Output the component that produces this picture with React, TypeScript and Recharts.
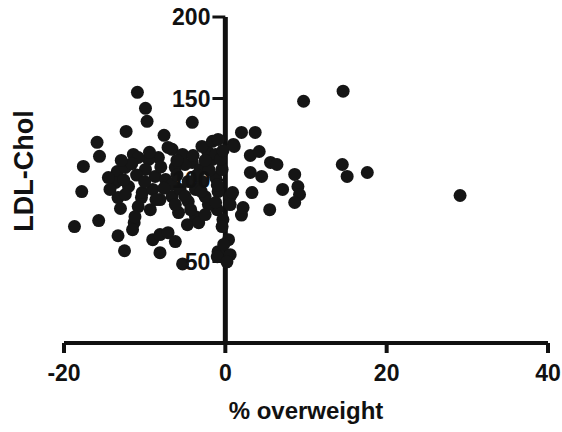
import { ScatterChart, Scatter, XAxis, YAxis, ReferenceLine } from 'recharts'

// % overweight vs LDL cholesterol
const pctOverweight = [
  -18.7, -17.8, -17.6, -15.6, -15.9, -15.7, -13.3, -12.5, -12.3, -10.9,
  -9.9, -9.7, -7.6, -4.1, -5.3, -13.0, -11.3, -11.5, -10.4, -9.0,
  -8.1, -8.1, -7.1, -6.2, -4.7, -5.8, -3.7, -1.0, 0.6, -0.3,
  0.4, -0.9, 0.6, -6.6, -5.3, -8.3, -9.5, -4.1, -2.2, -1.6,
  -3.1, -11.4, -13.4, -13.6, -13.3, -10.8, -9.9, -8.7, -10.3, -10.8,
  -7.4, -6.6, -11.2, -12.0, -9.0, -7.1, -2.9, -1.6, -0.9, 1.0,
  -1.2, -5.0, -6.2, -6.6, -4.6, -2.9, -1.2, -0.9, 0.9, 0.6,
  -2.1, -4.6, -6.2, -2.5, -1.2, 2.0, -3.3, -0.4, -0.2, -1.0,
  0.2, -14.3, -12.4, -8.1, -9.3, -5.6, -3.7, -4.3, -2.5, -0.4,
  -0.6, -14.5, -12.4, -12.6, -11.0, -8.0, -6.0, -3.5, -2.0, -7.6,
  -5.0, -11.6, -10.0, -4.0, -9.4, -6.0, -2.5, -1.0, -12.9, -8.6,
  -0.3, -3.0,
  9.7, 14.6, 14.5, 15.1, 17.6, 29.1, 2.0, 3.7, 1.1, 3.1,
  4.2, 5.6, 6.4, 3.1, 4.5, 8.6, 9.0, 9.2, 8.6, 7.1,
  3.3, 5.5, 2.2,
]
const ldlChol = [
  71.4, 92.9, 108.3, 114.5, 123.1, 75.1, 65.8, 56.6, 129.8, 153.8,
  144.0, 136.0, 127.4, 135.4, 48.5, 82.5, 73.8, 69.5, 89.2, 63.4,
  66.5, 55.4, 67.7, 62.2, 72.6, 80.0, 77.5, 81.8, 89.8, 75.7,
  63.4, 56.0, 54.2, 118.8, 115.7, 113.8, 112.6, 110.8, 117.5, 112.6,
  106.5, 115.7, 105.2, 98.5, 89.2, 113.8, 106.5, 102.2, 92.3, 83.7,
  100.3, 89.8, 77.5, 96.0, 94.2, 120.0, 120.6, 123.7, 124.9, 121.8,
  115.7, 109.5, 107.7, 97.2, 99.1, 99.1, 101.5, 92.9, 92.3, 84.9,
  84.9, 86.8, 84.9, 89.8, 86.2, 78.5, 73.8, 71.4, 60.5, 52.9,
  49.8, 94.2, 107.7, 88.0, 81.8, 94.2, 94.2, 81.8, 78.8, 106.5,
  112.6, 101.5, 91.1, 100.0, 103.0, 108.0, 103.0, 103.0, 106.0, 95.0,
  90.0, 110.0, 99.0, 115.0, 117.0, 112.0, 112.0, 97.0, 112.0, 88.0,
  118.0, 93.0,
  148.3, 154.5, 109.5, 102.2, 104.6, 90.5, 129.2, 129.2, 120.6, 115.1,
  117.5, 110.8, 109.5, 104.6, 102.2, 103.4, 96.0, 91.1, 86.2, 94.2,
  92.3, 81.8, 83.1,
]

const xTicks = [-20, 0, 20, 40]
const yTicks = [50, 100, 150, 200]

const data = pctOverweight.map((x, i) => ({ x, y: ldlChol[i] }))

const FONT = 'Liberation Sans, Arial, sans-serif'

const YTitle = ({ viewBox }: any) => {
  const cx = viewBox.x + 24
  const cy = viewBox.y + viewBox.height / 2 - 9
  return (
    <text x={cx} y={cy} transform={`rotate(-90, ${cx}, ${cy})`} textAnchor="middle"
      dominantBaseline="central" fontFamily={FONT} fontSize={27} fontWeight="bold" fill="#111">
      LDL-Chol
    </text>
  )
}

const Dot = (props: any) => <circle cx={props.cx} cy={props.cy} r={6.5} fill="#151515" />

export default function App() {
  return (
    <div style={{ position: 'absolute', left: 0, top: 0, background: '#fff' }}>
      <ScatterChart width={562} height={432} margin={{ top: 17, right: 14, bottom: 0, left: 0 }}>
        <XAxis type="number" dataKey="x" domain={[-20, 40]} ticks={xTicks} interval={0}
          height={89} tickSize={10} tickMargin={12}
          axisLine={{ stroke: '#111', strokeWidth: 4 }}
          tickLine={{ stroke: '#111', strokeWidth: 4 }}
          tick={{ fill: '#111', fontSize: 23, fontWeight: 'bold', fontFamily: FONT }}
          label={{ value: '% overweight', position: 'insideBottom', offset: 13, fill: '#111',
            fontSize: 24, fontWeight: 'bold', fontFamily: FONT }} />
        <YAxis type="number" dataKey="y" domain={[0, 200]} width={64}
          axisLine={false} tickLine={false} tick={false} label={<YTitle />} />
        <ReferenceLine x={0} stroke="#111" strokeWidth={5} />
        {yTicks.map(v => (
          <ReferenceLine key={v} segment={[{ x: -1.6, y: v }, { x: 0, y: v }]} stroke="#111" strokeWidth={3}
            label={{ value: String(v), position: 'left', offset: 2, fill: '#111', fontSize: 23,
              fontWeight: 'bold', fontFamily: FONT }} />
        ))}
        <Scatter data={data} shape={<Dot />} isAnimationActive={false} />
      </ScatterChart>
    </div>
  )
}
